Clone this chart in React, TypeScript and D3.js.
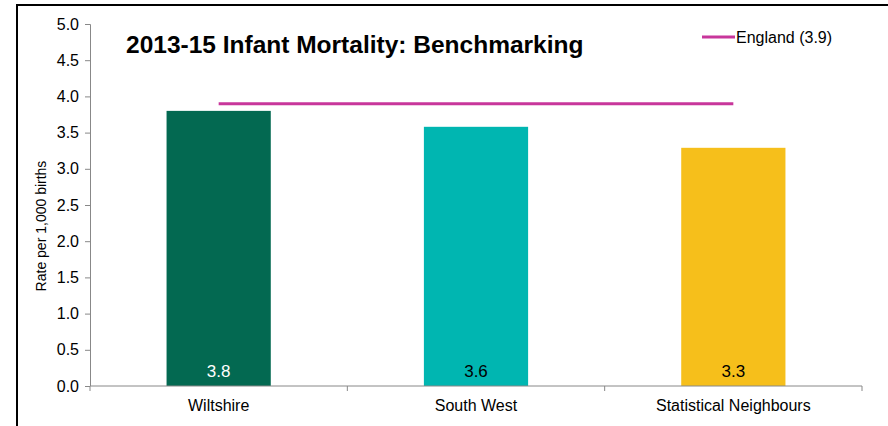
import { useEffect, useRef } from "react";
import * as d3 from "d3";

const categories = ["Wiltshire", "South West", "Statistical Neighbours"];
const rates = [3.8, 3.58, 3.29];
const barColors = ["#036951", "#00b6b1", "#f6bf1b"];
const labelColors = ["#ffffff", "#000000", "#000000"];
const englandRate = 3.9;
const yTicks = [0, 0.5, 1, 1.5, 2, 2.5, 3, 3.5, 4, 4.5, 5];

function drawChart(node: SVGSVGElement) {
  const w = 888;
  const h = 426;
  const margin = { top: 24, right: 26, bottom: 40, left: 90 };
  const width = w - margin.left - margin.right;
  const height = 386 - margin.top;
  const font = "Arial, 'Liberation Sans', sans-serif";

  const svg0 = d3.select(node);
  svg0.selectAll("*").remove();

  svg0.append("rect").attr("width", w).attr("height", h).attr("fill", "white");

  // frame (left + top only visible)
  svg0.append("line").attr("x1", 17).attr("x2", 17).attr("y1", 4).attr("y2", h)
    .attr("stroke", "#000").attr("stroke-width", 2);
  svg0.append("line").attr("x1", 16).attr("x2", w).attr("y1", 5).attr("y2", 5)
    .attr("stroke", "#000").attr("stroke-width", 2);

  const svg = svg0.append("g").attr("transform", `translate(${margin.left},${margin.top})`);

  const xScale = d3.scaleBand<string>().domain(categories).range([0, width])
    .paddingInner(0.595).paddingOuter(0.2975);
  const step = width / categories.length;
  const yScale = d3.scaleLinear().domain([0, 5]).range([height, 0]);

  // bars
  svg.selectAll("rect.bar").data(rates).enter().append("rect")
    .attr("class", "bar")
    .attr("x", (d, i) => xScale(categories[i])!)
    .attr("width", xScale.bandwidth())
    .attr("y", (d) => yScale(d))
    .attr("height", (d) => height - yScale(d))
    .attr("fill", (d, i) => barColors[i]);

  // value labels
  svg.selectAll("text.val").data(rates).enter().append("text")
    .attr("class", "val")
    .attr("x", (d, i) => xScale(categories[i])! + xScale.bandwidth() / 2)
    .attr("y", height - 9)
    .attr("text-anchor", "middle")
    .attr("font-family", font)
    .attr("font-size", 17)
    .attr("fill", (d, i) => labelColors[i])
    .text((d) => d.toFixed(1));

  // England line
  const x0 = xScale(categories[0])! + xScale.bandwidth() / 2;
  const x1 = xScale(categories[categories.length - 1])! + xScale.bandwidth() / 2;
  svg.append("line")
    .attr("x1", x0).attr("x2", x1)
    .attr("y1", yScale(englandRate)).attr("y2", yScale(englandRate))
    .attr("stroke", "#c8369b").attr("stroke-width", 3);

  // y axis
  const yAxis = svg.append("g").call(
    d3.axisLeft(yScale).tickValues(yTicks).tickSize(5).tickPadding(6).tickFormat(d3.format(".1f"))
  );
  yAxis.select(".domain").attr("stroke", "#888").attr("d", `M-5,0.5H0.5V${height}`);
  yAxis.selectAll(".tick line").attr("stroke", "#888");
  yAxis.selectAll("text").attr("font-family", font).attr("font-size", 16).attr("fill", "#000");

  // x axis
  const xg = svg.append("g").attr("transform", `translate(0,${height})`);
  xg.append("line").attr("x1", 0).attr("x2", width).attr("y1", 0).attr("y2", 0)
    .attr("stroke", "#888");
  xg.selectAll("line.tk").data(d3.range(categories.length + 1)).enter().append("line")
    .attr("class", "tk")
    .attr("x1", (d) => d * step).attr("x2", (d) => d * step)
    .attr("y1", 0).attr("y2", 5).attr("stroke", "#888");
  xg.selectAll("text").data(categories).enter().append("text")
    .attr("x", (d) => xScale(d)! + xScale.bandwidth() / 2)
    .attr("y", 25)
    .attr("text-anchor", "middle")
    .attr("font-family", font)
    .attr("font-size", 16)
    .attr("fill", "#000")
    .text((d) => d);

  // y axis title
  svg0.append("text")
    .attr("transform", `translate(46,226) rotate(-90)`)
    .attr("text-anchor", "middle")
    .attr("font-family", font)
    .attr("font-size", 14)
    .attr("fill", "#000")
    .text("Rate per 1,000 births");

  // title
  svg0.append("text")
    .attr("x", 126).attr("y", 53)
    .attr("font-family", font)
    .attr("font-size", 24.5)
    .attr("font-weight", "bold")
    .attr("fill", "#000")
    .text("2013-15 Infant Mortality: Benchmarking");

  // legend
  svg0.append("line").attr("x1", 702).attr("x2", 735).attr("y1", 37).attr("y2", 37)
    .attr("stroke", "#c8369b").attr("stroke-width", 3);
  svg0.append("text").attr("x", 736).attr("y", 43)
    .attr("font-family", font).attr("font-size", 16).attr("fill", "#000")
    .text("England (3.9)");
}

export default function App() {
  const ref = useRef<SVGSVGElement>(null);

  useEffect(() => {
    if (ref.current) drawChart(ref.current);
  }, []);

  return (
    <svg ref={ref} width={888} height={426}
      style={{ position: "absolute", left: 0, top: 0, display: "block" }} />
  );
}
